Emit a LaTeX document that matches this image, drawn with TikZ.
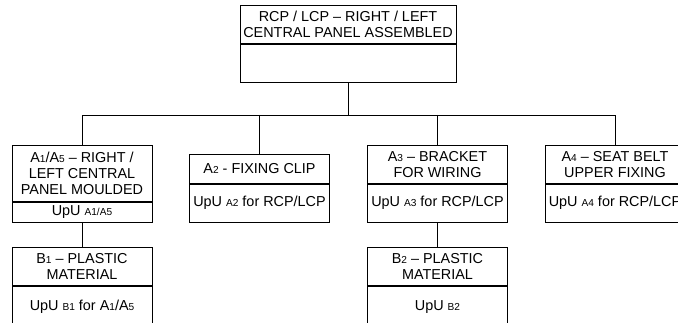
\documentclass[tikz,border=0pt]{standalone}
\usepackage{fontspec}
\setmainfont{Liberation Sans}
\usetikzlibrary{positioning}
\newcommand{\sml}[1]{{\fontsize{7.6}{8}\selectfont #1}}

\begin{document}
\begin{tikzpicture}[x=0.75pt,y=-0.75pt,
        part/.style={draw,line width=0.6pt,inner sep=0pt,minimum width=105pt,align=center,
            font=\fontsize{10.8}{12}\selectfont},
        link/.style={line width=0.6pt}]
            \clip (0,0) rectangle (678,323);
            % assembled panel
            \node[part,anchor=north,minimum width=162pt,minimum height=28.5pt] (rcp) at (348,5) {RCP / LCP – RIGHT / LEFT\\CENTRAL PANEL ASSEMBLED};
            \node[part,minimum width=162pt,minimum height=28.5pt,below=0pt of rcp] (rcpupu) {};
            \coordinate (bus) at (348,115);
            % first level
            \node[part,anchor=north,minimum height=42pt] (a1) at (82,145) {A\sml{1}/A\sml{5} – RIGHT /\\LEFT CENTRAL\\PANEL MOULDED};
            \node[part,minimum height=15pt,below=0pt of a1] (a1upu) {UpU \sml{A1/A5}};
            \node[part,anchor=north,minimum height=21.75pt] (a2) at (259.5,154) {A\sml{2} - FIXING CLIP};
            \node[part,minimum height=28.5pt,below=0pt of a2] (a2upu) {UpU \sml{A2} for RCP/LCP};
            \node[part,anchor=north,minimum height=28.5pt] (a3) at (437.5,145) {A\sml{3} – BRACKET\\FOR WIRING};
            \node[part,minimum height=28.5pt,below=0pt of a3] (a3upu) {UpU \sml{A3} for RCP/LCP};
            \node[part,anchor=north,minimum height=28.5pt] (a4) at (615,145) {A\sml{4} – SEAT BELT\\UPPER FIXING};
            \node[part,minimum height=28.5pt,below=0pt of a4] (a4upu) {UpU \sml{A4} for RCP/LCP};
            % second level
            \node[part,anchor=north,minimum height=28.5pt] (b1) at (82,247) {B\sml{1} – PLASTIC\\MATERIAL};
            \node[part,minimum height=31pt,below=0pt of b1] (b1upu) {UpU \sml{B1} for A\sml{1}/A\sml{5}};
            \node[part,anchor=north,minimum height=28.5pt] (b2) at (437.5,247) {B\sml{2} – PLASTIC\\MATERIAL};
            \node[part,minimum height=31pt,below=0pt of b2] (b2upu) {UpU \sml{B2}};
            % connectors
            \draw[link] (rcpupu.south)--(bus);
            \draw[link] (a1.north)|-(a4.north|-bus)--(a4.north);
            \draw[link] (bus-|a2.north)--(a2.north);
            \draw[link] (bus-|a3.north)--(a3.north);
            \draw[link] (a1upu.south)--(b1.north);
            \draw[link] (a3upu.south)--(b2.north);
        \end{tikzpicture}
\end{document}
